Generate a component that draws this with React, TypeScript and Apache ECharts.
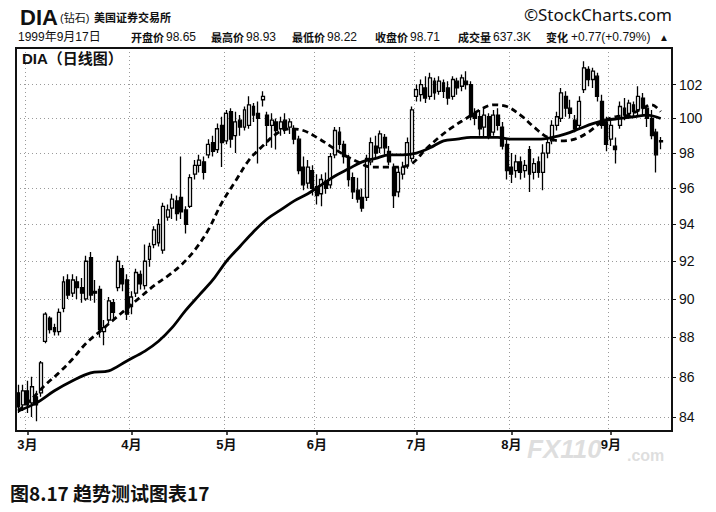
import React, { useEffect, useRef } from "react";
import * as echarts from "echarts";

// ---- trading days (Feb 25 1999 .. Sep 17 1999) ----
const FEB_DAYS = [25, 26];
const MAR_DAYS = [1, 2, 3, 4, 5, 8, 9, 10, 11, 12, 15, 16, 17, 18, 19, 22, 23, 24, 25, 26, 29, 30, 31];
const APR_DAYS = [1, 5, 6, 7, 8, 9, 12, 13, 14, 15, 16, 19, 20, 21, 22, 23, 26, 27, 28, 29, 30];
const MAY_DAYS = [3, 4, 5, 6, 7, 10, 11, 12, 13, 14, 17, 18, 19, 20, 21, 24, 25, 26, 27, 28];
const JUN_DAYS = [1, 2, 3, 4, 7, 8, 9, 10, 11, 14, 15, 16, 17, 18, 21, 22, 23, 24, 25, 28, 29, 30];
const JUL_DAYS = [1, 2, 6, 7, 8, 9, 12, 13, 14, 15, 16, 19, 20, 21, 22, 23, 26, 27, 28, 29, 30];
const AUG_DAYS = [2, 3, 4, 5, 6, 9, 10, 11, 12, 13, 16, 17, 18, 19, 20, 23, 24, 25, 26, 27, 30, 31];
const SEP_DAYS = [1, 2, 3, 7, 8, 9, 10, 13, 14, 15, 16, 17];
const PAD_DAYS = ["1999-09-20", "1999-09-21"];

const OPEN = [
  85.2, 84.6,
  85.3, 84.7, 85.0, 85.2, 87.8, 89.0, 88.5, 88.3, 89.5, 91.0, 90.3, 90.9, 90.6, 90.0, 92.2, 90.4, 90.5, 88.3, 88.9, 89.8, 90.6, 91.6, 91.0,
  89.6, 90.3, 91.3, 90.7, 92.1, 92.9, 93.0, 92.6, 94.4, 94.9, 95.3, 95.5, 94.8, 95.0, 96.8, 97.3, 97.5, 97.9, 98.6, 98.2, 99.6,
  98.7, 100.4, 99.0, 99.9, 99.5, 99.6, 100.7, 100.3, 101.1, 100.2, 99.6, 99.8, 99.4, 99.9, 99.5, 99.4, 98.8, 97.2, 96.3, 97.0,
  96.1, 95.7, 96.4, 96.2, 97.9, 99.2, 98.5, 97.7, 96.6, 95.9, 95.5, 95.5, 97.5, 98.4, 98.3, 98.9, 98.1, 97.2, 95.8, 96.8, 97.3, 97.7,
  101.3, 101.4, 101.8, 101.3, 102.2, 101.6, 102.1, 101.8, 101.3, 102.2, 101.9, 102.2, 102.0, 100.3, 100.1, 99.5, 100.1, 99.2, 100.2, 99.5, 98.5,
  97.2, 97.0, 97.5, 97.0, 98.2, 96.9, 97.5, 96.9, 98.0, 98.7, 99.6, 100.0, 101.3, 100.6, 99.9, 99.6, 101.7, 102.9, 102.3, 102.5, 101.0, 99.8,
  98.8, 98.4, 99.6, 100.6, 100.3, 100.8, 100.5, 101.2, 100.6, 100.0, 99.2, 98.65,
];
const HIGH = [
  85.6, 85.6,
  85.8, 86.0, 85.3, 86.8, 89.3, 89.1, 88.7, 89.5, 91.2, 91.3, 91.3, 91.2, 91.1, 92.3, 92.5, 91.0, 90.7, 88.9, 90.1, 90.0, 92.3, 91.8, 91.3,
  90.4, 91.6, 91.5, 92.9, 93.0, 93.9, 94.3, 95.2, 95.1, 95.7, 95.6, 97.8, 95.0, 96.8, 97.6, 97.9, 97.8, 98.8, 99.0, 99.7, 100.1,
  100.5, 100.6, 100.4, 100.2, 100.7, 101.3, 100.9, 101.0, 101.6, 100.4, 100.3, 100.0, 100.1, 100.3, 100.0, 99.6, 99.0, 97.8, 97.6, 97.3,
  96.8, 96.8, 96.9, 98.0, 99.5, 99.5, 98.7, 97.9, 96.9, 96.6, 96.0, 97.9, 98.9, 99.0, 99.3, 99.1, 98.4, 97.4, 97.2, 97.5, 98.9, 100.7,
  102.0, 102.3, 102.5, 102.7, 102.4, 102.5, 102.3, 102.2, 102.5, 102.4, 102.6, 102.8, 102.2, 100.6, 100.5, 100.6, 100.3, 100.5, 100.6, 99.8, 98.8,
  98.0, 97.9, 97.8, 97.6, 98.4, 97.7, 97.8, 98.5, 98.9, 99.9, 100.4, 101.8, 101.6, 101.1, 100.2, 101.3, 103.4, 103.1, 103.0, 102.7, 101.4, 100.1,
  99.9, 98.9, 101.0, 101.2, 101.1, 101.0, 101.9, 101.5, 100.8, 100.5, 99.4, 98.93,
];
const LOW = [
  84.2, 84.3,
  84.2, 84.0, 83.8, 85.0, 87.7, 88.2, 88.1, 88.1, 89.3, 90.0, 90.1, 90.0, 89.8, 89.9, 89.9, 89.8, 88.0, 87.6, 88.7, 88.9, 90.4, 90.4, 88.9,
  89.2, 90.1, 90.5, 90.5, 91.7, 92.7, 92.8, 92.4, 94.2, 94.3, 94.2, 94.3, 93.5, 94.9, 96.5, 96.9, 96.5, 97.7, 97.8, 98.0, 97.2,
  98.5, 98.3, 98.0, 99.0, 99.3, 99.4, 99.8, 97.4, 100.7, 98.4, 98.3, 98.2, 99.0, 99.1, 99.1, 98.5, 96.8, 95.9, 96.0, 95.6,
  95.1, 95.0, 95.7, 96.0, 97.7, 98.2, 97.4, 96.1, 95.4, 95.2, 94.7, 95.3, 97.3, 97.7, 98.0, 97.9, 97.3, 94.9, 95.5, 96.5, 97.1, 97.5,
  101.0, 101.0, 100.9, 101.1, 101.1, 101.4, 101.2, 100.8, 101.1, 101.4, 101.6, 101.7, 99.9, 99.6, 99.0, 98.9, 98.8, 99.0, 99.3, 98.2, 96.5,
  96.3, 96.6, 96.5, 96.6, 95.8, 96.5, 96.6, 95.9, 97.7, 98.5, 99.3, 99.8, 100.1, 100.0, 99.2, 99.4, 101.5, 101.9, 101.8, 101.0, 99.4, 98.1,
  98.4, 97.4, 99.4, 99.9, 100.0, 100.1, 100.2, 100.2, 99.5, 98.8, 96.9, 98.22,
];
const CLOSE = [
  84.5, 85.3,
  84.6, 85.5, 84.6, 86.7, 89.2, 88.4, 88.3, 89.3, 90.9, 90.2, 91.0, 90.6, 90.3, 92.0, 90.2, 90.3, 88.4, 88.5, 89.9, 89.3, 92.0, 90.8, 89.2,
  90.1, 91.4, 90.8, 92.0, 92.8, 93.7, 94.0, 95.0, 94.8, 95.4, 94.6, 94.7, 94.0, 96.6, 97.3, 97.6, 96.9, 98.5, 98.1, 99.4, 98.6,
  100.3, 98.8, 99.8, 99.5, 100.5, 100.8, 100.2, 100.0, 101.3, 99.6, 99.9, 99.3, 99.8, 99.4, 99.8, 98.8, 97.0, 96.2, 97.2, 96.0,
  95.6, 96.5, 96.0, 97.8, 99.3, 98.5, 97.8, 96.5, 95.8, 95.4, 94.9, 97.7, 98.6, 98.0, 99.1, 98.3, 97.5, 95.6, 96.9, 97.2, 98.6, 100.5,
  101.7, 102.0, 101.2, 102.4, 101.5, 102.2, 101.6, 101.2, 102.3, 101.8, 102.4, 102.0, 100.1, 100.0, 99.4, 100.2, 99.0, 100.2, 99.6, 98.4, 97.0,
  96.8, 97.5, 96.9, 97.3, 96.8, 97.4, 96.9, 98.0, 98.6, 99.6, 100.1, 101.5, 100.6, 100.3, 99.4, 101.0, 103.0, 102.3, 102.8, 101.3, 99.6, 98.5,
  99.6, 98.2, 100.7, 100.2, 100.9, 100.4, 101.3, 100.6, 100.0, 99.0, 97.9, 98.71,
];

// moving averages: [day index, value]
const MA_SHORT: [number, number][] = [
  [0, 84.3], [3, 84.9], [6, 85.6], [9, 86.2], [12, 86.9], [15, 87.7], [18, 88.3], [21, 88.9], [24, 89.5],
  [27, 90.1], [30, 90.7], [33, 91.2], [36, 91.8], [39, 92.6], [42, 93.7], [45, 95.2], [48, 96.4], [51, 97.6],
  [54, 98.4], [57, 99.1], [60, 99.4], [63, 99.3], [66, 98.9], [69, 98.4], [72, 97.9], [75, 97.5], [78, 97.2],
  [81, 97.2], [84, 97.2], [87, 97.4], [90, 98.2], [93, 98.9], [96, 99.5], [99, 100.0], [102, 100.5], [105, 100.8],
  [108, 100.7], [111, 100.2], [114, 99.5], [117, 98.9], [120, 98.7], [123, 98.8], [126, 99.2], [129, 99.8],
  [132, 100.1], [135, 100.2], [138, 100.6], [140, 100.8], [142, 100.4],
];
const MA_LONG: [number, number][] = [
  [0, 84.3], [4, 84.7], [8, 85.3], [12, 85.8], [16, 86.2], [20, 86.3], [24, 86.8], [28, 87.3], [31, 87.8],
  [34, 88.5], [37, 89.4], [40, 90.2], [43, 91.0], [46, 92.0], [49, 92.8], [52, 93.6], [55, 94.3], [58, 94.8],
  [61, 95.3], [64, 95.7], [67, 96.2], [70, 96.7], [73, 97.1], [76, 97.5], [79, 97.7], [82, 97.9], [85, 97.9],
  [88, 98.0], [91, 98.3], [94, 98.7], [97, 98.8], [100, 98.9], [103, 98.9], [106, 98.9], [109, 98.8], [112, 98.8],
  [115, 98.8], [118, 98.9], [121, 99.1], [124, 99.4], [127, 99.7], [130, 99.9], [133, 100.0], [136, 100.1],
  [139, 100.2], [142, 100.0],
];

const Y_TICKS = [84, 86, 88, 90, 92, 94, 96, 98, 100, 102];
const Y_MIN = 83.32;
const Y_MAX = 104.2;

const pad = (n: number) => (n < 10 ? "0" + n : "" + n);
const DATES: string[] = [
  ...FEB_DAYS.map((d) => `1999-02-${pad(d)}`),
  ...MAR_DAYS.map((d) => `1999-03-${pad(d)}`),
  ...APR_DAYS.map((d) => `1999-04-${pad(d)}`),
  ...MAY_DAYS.map((d) => `1999-05-${pad(d)}`),
  ...JUN_DAYS.map((d) => `1999-06-${pad(d)}`),
  ...JUL_DAYS.map((d) => `1999-07-${pad(d)}`),
  ...AUG_DAYS.map((d) => `1999-08-${pad(d)}`),
  ...SEP_DAYS.map((d) => `1999-09-${pad(d)}`),
  ...PAD_DAYS,
];

const isMonthStart = (i: number) =>
  i > 0 && DATES[i].slice(5, 7) !== DATES[i - 1].slice(5, 7) && i < DATES.length - PAD_DAYS.length;

const SANS = "'Liberation Sans', Arial, 'Noto Sans CJK SC', sans-serif";
const CJK = "'Liberation Sans', 'Noto Sans CJK SC', sans-serif";

export default function App() {
  const ref = useRef<HTMLDivElement>(null);
  useEffect(() => {
    if (!ref.current) return;
    const chart = echarts.init(ref.current, undefined, { renderer: "svg" });
    const candles = OPEN.map((o, i) => [o, CLOSE[i], LOW[i], HIGH[i]]);
    const candleData = [...candles, ...PAD_DAYS.map(() => "-")];

    const headerStats = [
      { x: 131, label: "开盘价", value: "98.65" },
      { x: 211, label: "最高价", value: "98.93" },
      { x: 292, label: "最低价", value: "98.22" },
      { x: 375, label: "收盘价", value: "98.71" },
      { x: 458, label: "成交量", value: "637.3K" },
      { x: 546, label: "变化", value: "+0.77(+0.79%)" },
    ];

    chart.setOption({
      animation: false,
      backgroundColor: "#ffffff",
      grid: { left: 16, right: 44, top: 48, bottom: 81, show: false },
      xAxis: {
        type: "category",
        data: DATES,
        boundaryGap: true,
        axisLine: { show: true, lineStyle: { color: "#111", width: 2 } },
        axisTick: {
          show: true,
          alignWithLabel: true,
          interval: (i: number) => isMonthStart(i),
          length: 4,
          lineStyle: { color: "#111", width: 1.5 },
        },
        axisLabel: {
          interval: (i: number) => isMonthStart(i),
          formatter: (v: string) => `${parseInt(v.slice(5, 7), 10)}月`,
          color: "#111",
          fontFamily: CJK,
          fontWeight: "bold",
          fontSize: 13,
          margin: 7,
        },
        splitLine: {
          show: true,
          interval: (i: number) => isMonthStart(i),
          lineStyle: { color: "#9a9a9a", type: [1, 3], width: 1 },
        },
      },
      yAxis: {
        type: "log",
        logBase: 10,
        min: Y_MIN,
        max: Y_MAX,
        position: "right",
        axisLine: { show: true, lineStyle: { color: "#111", width: 2 } },
        axisTick: { show: true, customValues: Y_TICKS, length: 4, inside: false, lineStyle: { color: "#111" } },
        axisLabel: {
          customValues: Y_TICKS,
          color: "#111",
          fontFamily: SANS,
          fontSize: 14,
          margin: 7,
          formatter: (v: number) => `${Math.round(v)}`,
        },
        splitLine: { show: true, lineStyle: { color: "#9a9a9a", type: [1, 3], width: 1 } },
      },
      series: [
        {
          type: "candlestick",
          data: candleData,
          barWidth: 3.4,
          itemStyle: {
            color: "#ffffff",
            color0: "#000000",
            borderColor: "#000000",
            borderColor0: "#000000",
            borderWidth: 1.3,
          },
          z: 2,
        },
        {
          type: "line",
          data: MA_LONG,
          smooth: 0.35,
          symbol: "none",
          lineStyle: { color: "#000", width: 2.8 },
          z: 3,
        },
        {
          type: "line",
          data: MA_SHORT,
          smooth: 0.35,
          symbol: "none",
          lineStyle: { color: "#000", width: 2.8, type: [6, 4] },
          z: 3,
        },
      ],
      graphic: [
        {
          type: "rect",
          shape: { x: 16, y: 48, width: 656, height: 383 },
          style: { fill: "none", stroke: "#111", lineWidth: 2 },
          z: 10,
        },
        { type: "text", x: 20, y: 6, style: { text: "DIA", font: `bold 22px ${SANS}`, fill: "#111" } },
        { type: "text", x: 60, y: 12, style: { text: "(钻石)", font: `11px ${CJK}`, fill: "#111" } },
        { type: "text", x: 94, y: 12, style: { text: "美国证券交易所", font: `bold 11px ${CJK}`, fill: "#111" } },
        {
          type: "text",
          x: 672,
          y: 6,
          style: { text: "©StockCharts.com", font: `17px 'Noto Sans', ${SANS}`, fill: "#111", align: "right" },
        },
        { type: "text", x: 18, y: 31, style: { text: "1999年9月17日", font: `12px ${CJK}`, fill: "#111" } },
        ...headerStats.flatMap((s) => [
          { type: "text", x: s.x, y: 32, style: { text: s.label, font: `bold 11px ${CJK}`, fill: "#111" } },
          {
            type: "text",
            x: s.x + (s.label.length === 2 ? 25 : 35),
            y: 31,
            style: { text: s.value, font: `12px ${SANS}`, fill: "#111" },
          },
        ]),
        { type: "text", x: 659, y: 32, style: { text: "▲", font: `10px ${SANS}`, fill: "#111" } },
        {
          type: "text",
          x: 22,
          y: 51,
          style: { text: "DIA（日线图）", font: `bold 15px ${CJK}`, fill: "#111" },
          z: 11,
        },
        {
          type: "text",
          x: 527,
          y: 436,
          style: { text: "FX110", font: `italic bold 26px ${SANS}`, fill: "rgba(190,190,190,0.5)" },
          z: 12,
        },
        {
          type: "text",
          x: 627,
          y: 447,
          style: { text: ".com", font: `bold 16px ${SANS}`, fill: "rgba(190,190,190,0.5)" },
          z: 12,
        },
        {
          type: "text",
          x: 10,
          y: 483,
          style: { text: "图8.17 趋势测试图表17", font: `bold 19px 'Noto Sans CJK SC', serif`, fill: "#111" },
        },
      ],
    });
    return () => chart.dispose();
  }, []);
  return (
    <div
      ref={ref}
      style={{ position: "fixed", left: 0, top: 0, width: 716, height: 512, background: "#fff" }}
    />
  );
}
